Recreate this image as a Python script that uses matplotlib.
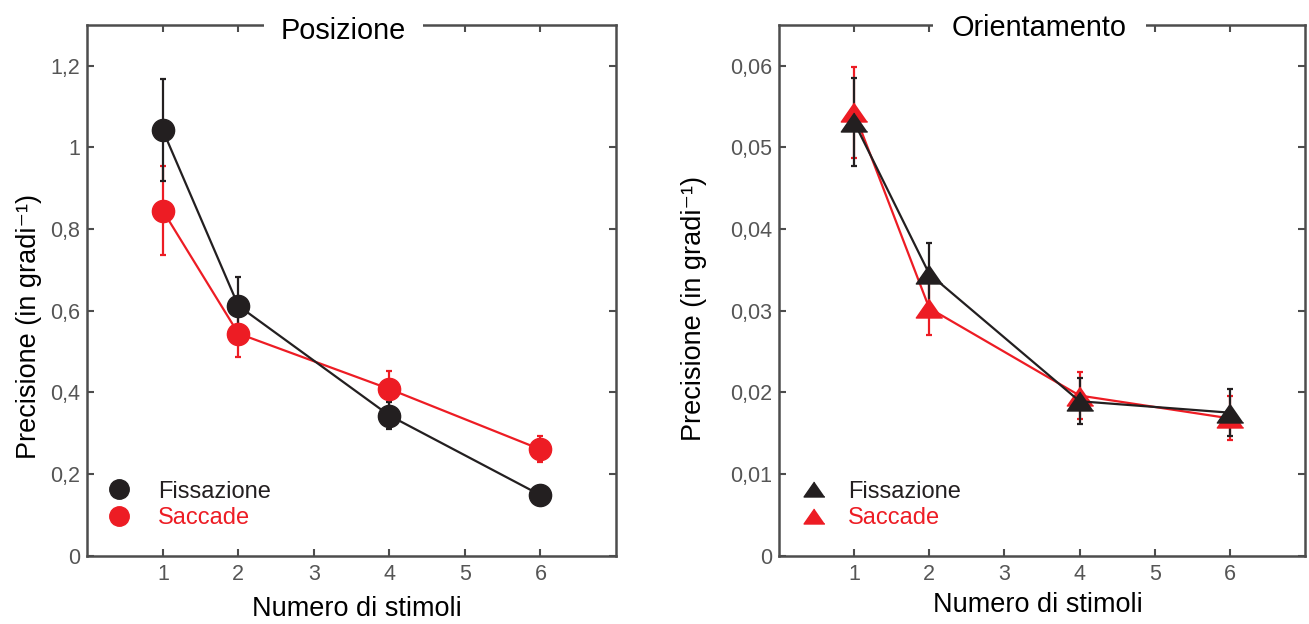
import matplotlib
matplotlib.use("Agg")
import matplotlib.pyplot as plt
from matplotlib.lines import Line2D

plt.rcParams['font.family'] = ['Liberation Sans', 'DejaVu Sans']

# ---------------- data ----------------
stimoli = [1, 2, 4, 6]
x_ticks = [1, 2, 3, 4, 5, 6]

pos_fix = [1.042, 0.612, 0.343, 0.148]
pos_fix_err = [0.125, 0.071, 0.034, 0.012]
pos_sac = [0.845, 0.544, 0.408, 0.260]
pos_sac_err = [0.109, 0.057, 0.043, 0.032]

ori_fix = [0.0531, 0.0345, 0.0189, 0.0175]
ori_fix_err = [0.0054, 0.0038, 0.0028, 0.0029]
ori_sac = [0.0543, 0.0303, 0.0196, 0.0168]
ori_sac_err = [0.0056, 0.0033, 0.0029, 0.0027]

pos_yticks = [0, 0.2, 0.4, 0.6, 0.8, 1.0, 1.2]
pos_yticklabels = ['0', '0,2', '0,4', '0,6', '0,8', '1', '1,2']
ori_yticks = [0, 0.01, 0.02, 0.03, 0.04, 0.05, 0.06]
ori_yticklabels = ['0', '0,01', '0,02', '0,03', '0,04', '0,05', '0,06']

labels = ['Fissazione', 'Saccade']
titles = ['Posizione', 'Orientamento']
xlabel = 'Numero di stimoli'
ylabel = 'Precisione (in gradi\u207b\u00b9)'

BLACK = '#231f20'
RED = '#ed1c24'
SPINE = '#4d4d4d'
TICKLAB = '#555555'
TRI = [(0, 0.72), (-1, -0.72), (1, -0.72)]

W, H = 1309, 624
fig = plt.figure(figsize=(W / 100, H / 100), dpi=100)
bottom = (H - 555.5) / H
height = 530.5 / H
ax1 = fig.add_axes([87.3 / W, bottom, 528.7 / W, height])
ax2 = fig.add_axes([779 / W, bottom, 526 / W, height])


def style(ax, yticks, yticklabels, ylim):
    ax.set_xlim(0, 7)
    ax.set_ylim(*ylim)
    ax.set_xticks(x_ticks)
    ax.set_xticklabels([str(v) for v in x_ticks])
    ax.set_yticks(yticks)
    ax.set_yticklabels(yticklabels)
    ax.tick_params(direction='in', top=True, right=True, length=5, width=1.5,
                   color=SPINE, labelsize=15.5, labelcolor=TICKLAB)
    ax.tick_params(axis='y', pad=5)
    ax.tick_params(axis='x', pad=6)
    for s in ax.spines.values():
        s.set_linewidth(1.8)
        s.set_color(SPINE)


def series(ax, y, err, color, marker, ms):
    ax.errorbar(stimoli, y, yerr=err, fmt='-', marker=marker, color=color,
                mfc=color, mec=color, ms=ms, lw=1.6, elinewidth=1.6,
                capsize=2.5, capthick=1.6)


# ---- left panel
series(ax1, pos_sac, pos_sac_err, RED, 'o', 16)
series(ax1, pos_fix, pos_fix_err, BLACK, 'o', 16)
style(ax1, pos_yticks, pos_yticklabels, (0, 1.3))

# ---- right panel
series(ax2, ori_sac, ori_sac_err, RED, TRI, 19)
series(ax2, ori_fix, ori_fix_err, BLACK, TRI, 19)
style(ax2, ori_yticks, ori_yticklabels, (0, 0.065))

# titles breaking the top spine
ax1.text(0.4846, 0.973, titles[0], transform=ax1.transAxes, ha='center',
         va='baseline', fontsize=20.8, color='black', zorder=10, clip_on=False,
         bbox=dict(fc='white', ec='none', pad=12))
ax2.text(0.495, 0.979, titles[1], transform=ax2.transAxes, ha='center',
         va='baseline', fontsize=20.8, color='black', zorder=10, clip_on=False,
         bbox=dict(fc='white', ec='none', pad=14))

# axis labels
for ax, lx, ly, xx, xy in [(ax1, -0.0862, 0.4326, 0.5096, -0.0763),
                           (ax2, -0.137, 0.4665, 0.4914, -0.069)]:
    ax.set_ylabel(ylabel, fontsize=19.5, color='black')
    ax.yaxis.set_label_coords(lx, ly)
    ax.set_xlabel(xlabel, fontsize=19.5, color='black')
    ax.xaxis.set_label_coords(xx, xy)

# legends
h1 = [Line2D([], [], ls='none', marker='o', color=BLACK, ms=14),
      Line2D([], [], ls='none', marker='o', color=RED, ms=14)]
ax1.legend(h1, labels, loc='upper left', bbox_to_anchor=(0.0376, 0.141),
           frameon=False, fontsize=17, handlelength=1.0,
           handletextpad=1.15, labelspacing=0.2, borderpad=0,
           borderaxespad=0, labelcolor=[BLACK, RED])
h2 = [Line2D([], [], ls='none', marker=TRI, color=BLACK, ms=15),
      Line2D([], [], ls='none', marker=TRI, color=RED, ms=15)]
ax2.legend(h2, labels, loc='upper left', bbox_to_anchor=(0.0447, 0.141),
           frameon=False, fontsize=17, handlelength=1.0,
           handletextpad=0.94, labelspacing=0.2, borderpad=0,
           borderaxespad=0, labelcolor=[BLACK, RED])

fig.savefig('out.png', dpi=100, facecolor='white')
